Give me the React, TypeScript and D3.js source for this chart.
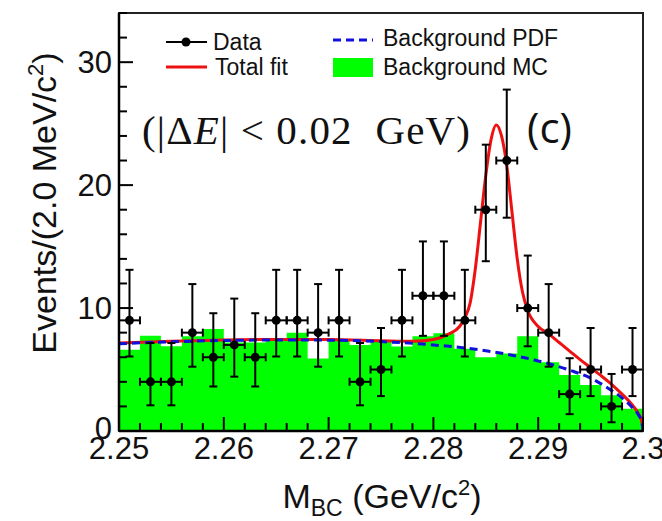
import React, { useEffect } from "react";
import * as d3 from "d3";

// ---- data ----
const binCenters = [
  2.251, 2.253, 2.255, 2.257, 2.259, 2.261, 2.263, 2.265, 2.267, 2.269,
  2.271, 2.273, 2.275, 2.277, 2.279, 2.281, 2.283, 2.285, 2.287, 2.289,
  2.291, 2.293, 2.295, 2.297, 2.299,
];
const dataCounts = [9, 4, 4, 8, 6, 7, 6, 9, 9, 8, 9, 4, 5, 9, 11, 11, 9, 18, 22, 10, 8, 3, 5, 2, 5];
const dataErrLow = [
  2.94, 1.91, 1.91, 2.77, 2.38, 2.58, 2.38, 2.94, 2.94, 2.77, 2.94, 1.91, 2.16,
  2.94, 3.26, 3.26, 2.94, 4.19, 4.65, 3.11, 2.77, 1.63, 2.16, 1.29, 2.16,
];
const dataErrHigh = [
  4.11, 3.16, 3.16, 3.95, 3.58, 3.77, 3.58, 4.11, 4.11, 3.95, 4.11, 3.16, 3.38,
  4.11, 4.42, 4.42, 4.11, 5.29, 5.77, 4.27, 3.95, 2.92, 3.38, 2.64, 3.38,
];
const mcBackground = [
  6.6, 7.75, 6.9, 7.7, 8.3, 7.2, 7.2, 7.55, 8.0, 5.9, 7.45, 7.0, 7.3,
  6.87, 7.7, 7.95, 6.7, 6.0, 6.3, 7.7, 5.6, 4.56, 3.75, 2.9, 1.8,
];
const bkgPdfX = [2.25, 2.255, 2.26, 2.265, 2.27, 2.275, 2.28, 2.285, 2.29, 2.293, 2.295, 2.297, 2.298, 2.299, 2.2995, 2.2999, 2.3];
const bkgPdfY = [7.1, 7.26, 7.36, 7.4, 7.39, 7.27, 7.0, 6.53, 5.7, 4.95, 4.3, 3.3, 2.7, 1.9, 1.4, 0.65, 0];
const totalFitX = [
  2.25, 2.255, 2.26, 2.265, 2.27, 2.275, 2.278, 2.28, 2.2815, 2.2825, 2.283, 2.2835,
  2.284, 2.2845, 2.285, 2.2855, 2.286, 2.2865, 2.287, 2.2875, 2.288, 2.2885, 2.289,
  2.29, 2.291, 2.292, 2.293, 2.294, 2.295, 2.296, 2.297, 2.298, 2.299, 2.2995, 2.2999, 2.3,
];
const totalFitY = [
  7.15, 7.31, 7.41, 7.45, 7.44, 7.35, 7.3, 7.45, 7.9, 8.5, 9.2, 10.4,
  13.2, 17.0, 20.8, 23.7, 24.9, 24.0, 21.6, 17.8, 14.0, 11.3, 9.8,
  8.5, 7.9, 7.2, 6.5, 5.8, 5.15, 4.5, 3.8, 3.0, 2.1, 1.5, 0.7, 0,
];
const xTicks = [2.25, 2.26, 2.27, 2.28, 2.29, 2.3];
const xTickLabels = ["2.25", "2.26", "2.27", "2.28", "2.29", "2.3"];
const yTicks = [0, 10, 20, 30];
const yTickLabels = ["0", "10", "20", "30"];
const binHalfWidth = 0.001;

const W = 662;
const H = 521;
const M = { left: 119, right: 643, top: 13, bottom: 431 };

export default function App() {
  useEffect(() => {
    document.body.style.margin = "0";
  }, []);

  const x = d3.scaleLinear().domain([2.25, 2.3]).range([M.left, M.right]);
  const y = d3.scaleLinear().domain([0, 34]).range([M.bottom, M.top]);

  const histPts: [number, number][] = mcBackground.map((v, i) => [binCenters[i] - binHalfWidth, v]);
  histPts.push([binCenters[binCenters.length - 1] + binHalfWidth, mcBackground[mcBackground.length - 1]]);
  const histArea = d3
    .area<[number, number]>()
    .x((d) => x(d[0]))
    .y0(y(0))
    .y1((d) => y(d[1]))
    .curve(d3.curveStepAfter);

  const line = d3
    .line<[number, number]>()
    .x((d) => x(d[0]))
    .y((d) => y(d[1]))
    .curve(d3.curveMonotoneX);
  const bkgPts: [number, number][] = bkgPdfX.map((v, i) => [v, bkgPdfY[i]]);
  const fitPts: [number, number][] = totalFitX.map((v, i) => [v, totalFitY[i]]);

  const minorX = d3.range(2.25, 2.3001, 0.002);
  const minorY = d3.range(0, 34.01, 2);
  const sans = "'Liberation Sans', Arial, Helvetica, sans-serif";
  const cap = 4;

  return (
    <svg width={W} height={H} style={{ position: "absolute", left: 0, top: 0, background: "#fff" }}>
      <defs>
        <clipPath id="plot">
          <rect x={M.left} y={M.top} width={M.right - M.left} height={M.bottom - M.top} />
        </clipPath>
      </defs>
      <rect x={0} y={0} width={W} height={H} fill="#fff" />
      <g clipPath="url(#plot)">
        <path d={histArea(histPts) || ""} fill="#00ff00" stroke="none" />
        <path d={line(fitPts) || ""} fill="none" stroke="#ee1111" strokeWidth={3} />
        <path d={line(bkgPts) || ""} fill="none" stroke="#1111dd" strokeWidth={3} strokeDasharray="8,5" />
      </g>
      {/* data points */}
      <g stroke="#000" strokeWidth={2}>
        {binCenters.map((c, i) => {
          const cx = x(c);
          const cy = y(dataCounts[i]);
          const yt = y(dataCounts[i] + dataErrHigh[i]);
          const yb = y(dataCounts[i] - dataErrLow[i]);
          const xl = x(c - binHalfWidth);
          const xr = x(c + binHalfWidth);
          return (
            <g key={i}>
              <line x1={cx} x2={cx} y1={yt} y2={yb} />
              <line x1={cx - cap} x2={cx + cap} y1={yt} y2={yt} />
              <line x1={cx - cap} x2={cx + cap} y1={yb} y2={yb} />
              <line x1={xl} x2={xr} y1={cy} y2={cy} />
              <line x1={xl} x2={xl} y1={cy - cap} y2={cy + cap} />
              <line x1={xr} x2={xr} y1={cy - cap} y2={cy + cap} />
              <circle cx={cx} cy={cy} r={4.5} fill="#000" stroke="none" />
            </g>
          );
        })}
      </g>
      {/* frame */}
      <rect x={M.left} y={M.top} width={M.right - M.left} height={M.bottom - M.top} fill="none" stroke="#222" strokeWidth={2} />
      {/* ticks */}
      <g stroke="#000" strokeWidth={2}>
        {minorY.map((t, i) => (
          <line key={"my" + i} x1={M.left} x2={M.left + (t % 10 === 0 ? 14 : 8)} y1={y(t)} y2={y(t)} />
        ))}
        {minorX.map((t, i) => (
          <line key={"mx" + i} x1={x(t)} x2={x(t)} y1={M.bottom} y2={M.bottom - (i % 5 === 0 ? 14 : 8)} />
        ))}
        <line x1={M.left} x2={M.left} y1={M.top} y2={M.bottom} strokeWidth={2.5} />
        <line x1={M.left} x2={M.right} y1={M.bottom} y2={M.bottom} strokeWidth={2.5} />
      </g>
      {/* tick labels */}
      <g fontFamily={sans} fontSize={31} fill="#111">
        {yTicks.map((t, i) => (
          <text key={"yl" + i} x={112} y={y(t) - (t === 0 ? 3 : 0)} dy="0.36em" textAnchor="end">
            {yTickLabels[i]}
          </text>
        ))}
        {xTicks.map((t, i) => (
          <text key={"xl" + i} x={x(t)} y={459} textAnchor="middle">
            {xTickLabels[i]}
          </text>
        ))}
      </g>
      {/* axis titles */}
      <text fontFamily={sans} fontSize={34} fill="#111" transform="translate(56,203) rotate(-90)" textAnchor="middle">
        Events/(2.0 MeV/c<tspan fontSize={22} dy={-13}>2</tspan>
        <tspan dy={13}>)</tspan>
      </text>
      <text fontFamily={sans} fontSize={34} fill="#111" x={382} y={508} textAnchor="middle">
        M<tspan fontSize={23} dy={8}>BC</tspan>
        <tspan dy={-8}> (GeV/c</tspan>
        <tspan fontSize={22} dy={-13}>2</tspan>
        <tspan dy={13}>)</tspan>
      </text>
      {/* legend */}
      <g fontFamily={sans} fontSize={23} fill="#111">
        <line x1={166} x2={207} y1={42} y2={42} stroke="#000" strokeWidth={2} />
        <circle cx={186} cy={42} r={4.5} fill="#000" />
        <text x={213} y={42} dy="0.36em">Data</text>
        <line x1={166} x2={207} y1={67} y2={67} stroke="#ee1111" strokeWidth={3} />
        <text x={215} y={67} dy="0.36em">Total fit</text>
        <line x1={333} x2={373} y1={40} y2={40} stroke="#1111dd" strokeWidth={3} strokeDasharray="8,5" />
        <text x={383} y={38} dy="0.36em">Background PDF</text>
        <rect x={333} y={58} width={40} height={19} fill="#00ff00" />
        <text x={383} y={67} dy="0.36em">Background MC</text>
      </g>
      {/* annotations */}
      <text
        x={142}
        y={144}
        fontFamily="'Liberation Serif', 'Times New Roman', serif"
        fontSize={41}
        fill="#111"
        textLength={328}
        lengthAdjust="spacing"
        style={{ whiteSpace: "pre" }}
      >
        (|Δ<tspan fontStyle="italic">E</tspan>| {"<"} 0.02  GeV)
      </text>
      <text x={527} y={143} fontFamily="'Open Sans', 'Noto Sans', sans-serif" fontSize={42} fill="#111">
        (c)
      </text>
    </svg>
  );
}
